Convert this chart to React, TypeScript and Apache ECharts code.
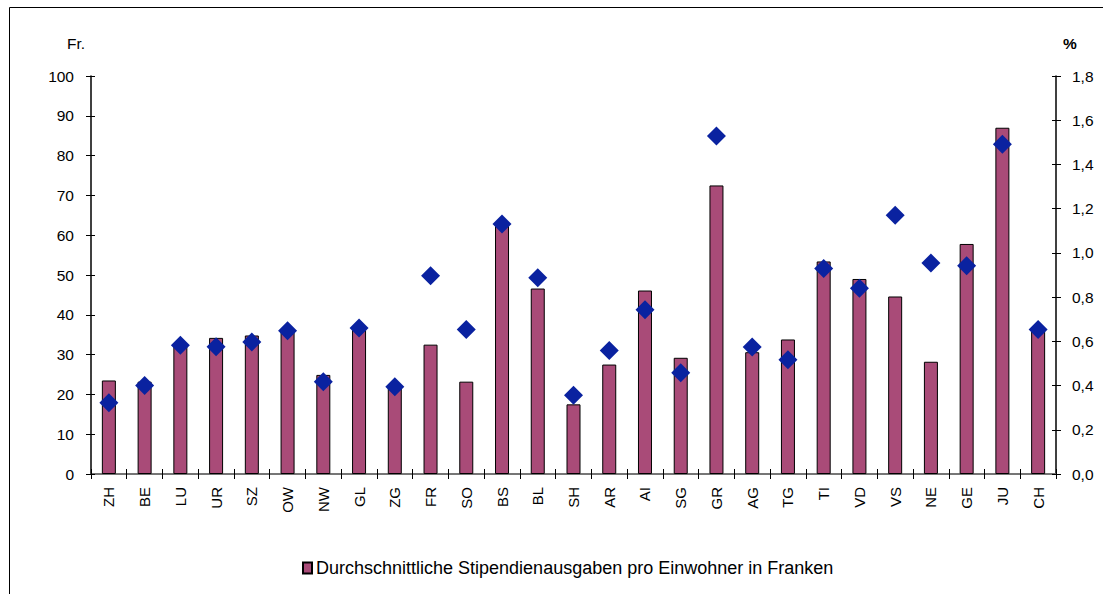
import React, { useEffect, useRef } from "react";
import * as echarts from "echarts";

const categories = ["ZH","BE","LU","UR","SZ","OW","NW","GL","ZG","FR","SO","BS","BL","SH","AR","AI","SG","GR","AG","TG","TI","VD","VS","NE","GE","JU","CH"];
const barValues = [23.5,23.2,32.6,34.2,34.8,35.8,24.9,37,22,32.5,23.2,62.8,46.6,17.5,27.5,46.1,29.2,72.5,30.6,33.8,53.4,49.0,44.6,28.2,57.8,87.0,36.0];
const pctValues = [0.322,0.40,0.582,0.576,0.597,0.648,0.417,0.66,0.395,0.897,0.653,1.131,0.888,0.356,0.558,0.743,0.458,1.529,0.574,0.517,0.929,0.840,1.170,0.954,0.942,1.491,0.653];
const barName = "Durchschnittliche Stipendienausgaben pro Einwohner in Franken";
const pctName = "Anteil in %";
const leftTitle = "Fr.";
const rightTitle = "%";

const FONT = "'Liberation Sans', Arial, sans-serif";

export default function App() {
  const ref = useRef<HTMLDivElement>(null);
  useEffect(() => {
    document.body.style.margin = "0";
    const chart = echarts.init(ref.current!, null, { renderer: "svg" });
    const innerTickAxis = (pos: string, max: number, interval: number) => ({
      type: "value",
      min: 0,
      max,
      interval,
      position: pos,
      axisLine: { show: false },
      axisTick: { show: true, inside: true, length: 4, lineStyle: { color: "#000" } },
      splitLine: { show: false },
      axisLabel: { show: false },
    });
    chart.setOption({
      animation: false,
      textStyle: { fontFamily: FONT, color: "#000" },
      grid: { left: 91, right: 47, top: 76, bottom: 120, containLabel: false },
      legend: {
        data: [barName],
        left: 297,
        top: 554,
        itemWidth: 9,
        itemHeight: 11,
        itemGap: 5,
        icon: "rect",
        textStyle: { fontSize: 18, fontFamily: FONT, color: "#000", padding: [0, 0, 0, -1] },
      },
      graphic: [
        { type: "rect", shape: { x: 9.5, y: 7.5, width: 1200, height: 700 }, style: { fill: "none", stroke: "#000", lineWidth: 1 }, silent: true },
        { type: "text", x: 67, y: 35, style: { text: leftTitle, fontSize: 15.5, fontFamily: FONT, fill: "#000" } },
        { type: "text", x: 1063, y: 35, style: { text: rightTitle, fontSize: 15.5, fontWeight: "bold", fontFamily: FONT, fill: "#000" } },
      ],
      xAxis: [
        {
          type: "category",
          data: categories,
          position: "bottom",
          axisLine: { lineStyle: { color: "#000", width: 1.5 } },
          axisTick: { show: true, alignWithLabel: false, length: 5, lineStyle: { color: "#000" } },
          axisLabel: { rotate: 90, fontSize: 15, margin: 13, color: "#000", fontFamily: FONT },
        },
        {
          type: "category",
          data: categories,
          position: "bottom",
          axisLine: { show: false },
          axisTick: { show: true, inside: true, length: 5, lineStyle: { color: "#000" } },
          axisLabel: { show: false },
        },
        {
          type: "category",
          data: categories,
          position: "top",
          axisLine: { lineStyle: { color: "#888", width: 1.5 } },
          axisTick: { show: false },
          axisLabel: { show: false },
        },
      ],
      yAxis: [
        {
          type: "value",
          min: 0,
          max: 100,
          interval: 10,
          position: "left",
          axisLine: { show: true, lineStyle: { color: "#000", width: 1.5 } },
          axisTick: { show: true, length: 5, lineStyle: { color: "#000" } },
          splitLine: { show: false },
          axisLabel: { fontSize: 15.5, margin: 17, color: "#000", fontFamily: FONT },
        },
        {
          type: "value",
          min: 0,
          max: 1.8,
          interval: 0.2,
          position: "right",
          axisLine: { show: true, lineStyle: { color: "#000", width: 1.5 } },
          axisTick: { show: true, length: 5, lineStyle: { color: "#000" } },
          splitLine: { show: false },
          axisLabel: {
            fontSize: 15.5,
            margin: 16,
            color: "#000",
            fontFamily: FONT,
            formatter: (v: number) => v.toFixed(1).replace(".", ","),
          },
        },
        innerTickAxis("left", 100, 10),
        innerTickAxis("right", 1.8, 0.2),
      ],
      series: [
        {
          name: barName,
          type: "bar",
          xAxisIndex: 0,
          yAxisIndex: 0,
          data: barValues,
          barWidth: 14,
          itemStyle: { color: "#a94b78", borderColor: "#000", borderWidth: 1 },
        },
        {
          name: pctName,
          type: "scatter",
          xAxisIndex: 0,
          yAxisIndex: 1,
          data: pctValues,
          symbol: "diamond",
          symbolSize: 19,
          itemStyle: { color: "#0a22a0", opacity: 1 },
          z: 5,
        },
      ],
    });
    return () => chart.dispose();
  }, []);
  return <div ref={ref} style={{ width: 1103, height: 594 }} />;
}
